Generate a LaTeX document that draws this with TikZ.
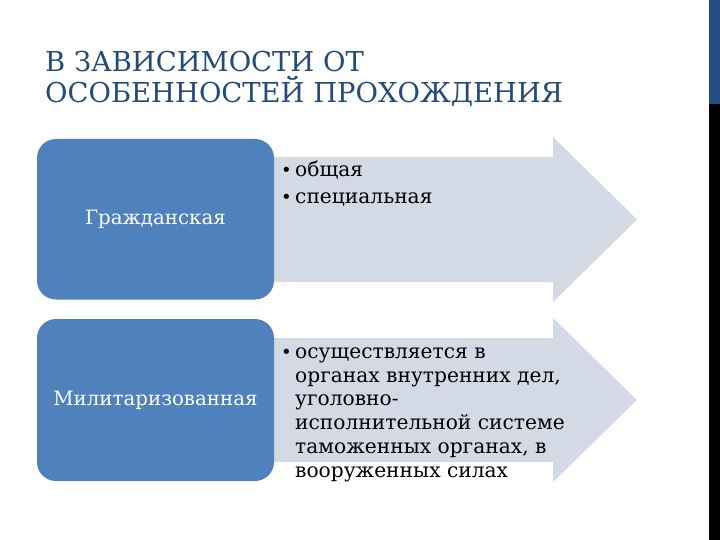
\documentclass[tikz,border=0pt]{standalone}
\usepackage{fontspec}
\setmainfont{DejaVu Serif}
\definecolor{titlecol}{HTML}{234A78}
\definecolor{boxcol}{HTML}{4F81BD}
\definecolor{arrowcol}{HTML}{D3DAE6}
\definecolor{barnavy}{HTML}{234C82}
\begin{document}
\begin{tikzpicture}[x=1pt,y=-1pt,
  titletext/.style={anchor=base west,inner sep=0,text=titlecol,font=\fontsize{27.4}{30}\selectfont},
  catbox/.style={draw=none,fill=boxcol,rounded corners=19pt},
  cattext/.style={text=white,inner sep=0,font=\fontsize{19.8}{22}\selectfont},
  arrowshape/.style={fill=arrowcol,draw=none},
  itemtext/.style={anchor=base west,inner sep=0,text=black,font=\fontsize{20.2}{22}\selectfont},
  bulletmark/.style={anchor=base west,inner sep=0,text=black,font=\fontsize{18}{22}\selectfont}]
\useasboundingbox (0,0) rectangle (720,540);
\fill[white] (0,0) rectangle (720,540);
% right bar
\fill[barnavy] (709,0) rectangle (720,104);
\fill[black] (709,104) rectangle (720,540);
% title
\node[titletext] (t1) at (45,72) {В ЗАВИСИМОСТИ ОТ};
\node[titletext] (t2) at (45,103) {ОСОБЕННОСТЕЙ ПРОХОЖДЕНИЯ};
% arrow 1
\fill[arrowshape] (272,157) -- (553,157) -- (553,137) -- (637,219.5) -- (553,302) -- (553,282) -- (272,282) -- cycle;
\fill[catbox] (37,139) rectangle (274,299.5);
\node[cattext] (c1) at (155.5,219.5) {Гражданская};
\node[bulletmark] (b1) at (281,177) {•};
\node[itemtext] (i1) at (295,177) {общая};
\node[bulletmark] (b2) at (281,204) {•};
\node[itemtext] (i2) at (295,204) {специальная};
% arrow 2
\fill[arrowshape] (272,338) -- (553,338) -- (553,318) -- (637,400) -- (553,482) -- (553,462) -- (272,462) -- cycle;
\fill[catbox] (37,319) rectangle (274,481);
\node[cattext] (c2) at (155.5,400) {Милитаризованная};
\node[bulletmark] (b3) at (281,358.5) {•};
\node[itemtext] (j1) at (295,358.5) {осуществляется в};
\node[itemtext] (j2) at (295,382.2) {органах внутренних дел,};
\node[itemtext] (j3) at (295,405.9) {уголовно-};
\node[itemtext] (j4) at (295,429.6) {исполнительной системе};
\node[itemtext] (j5) at (295,453.3) {таможенных органах, в};
\node[itemtext] (j6) at (295,477) {вооруженных силах};
\end{tikzpicture}
\end{document}
